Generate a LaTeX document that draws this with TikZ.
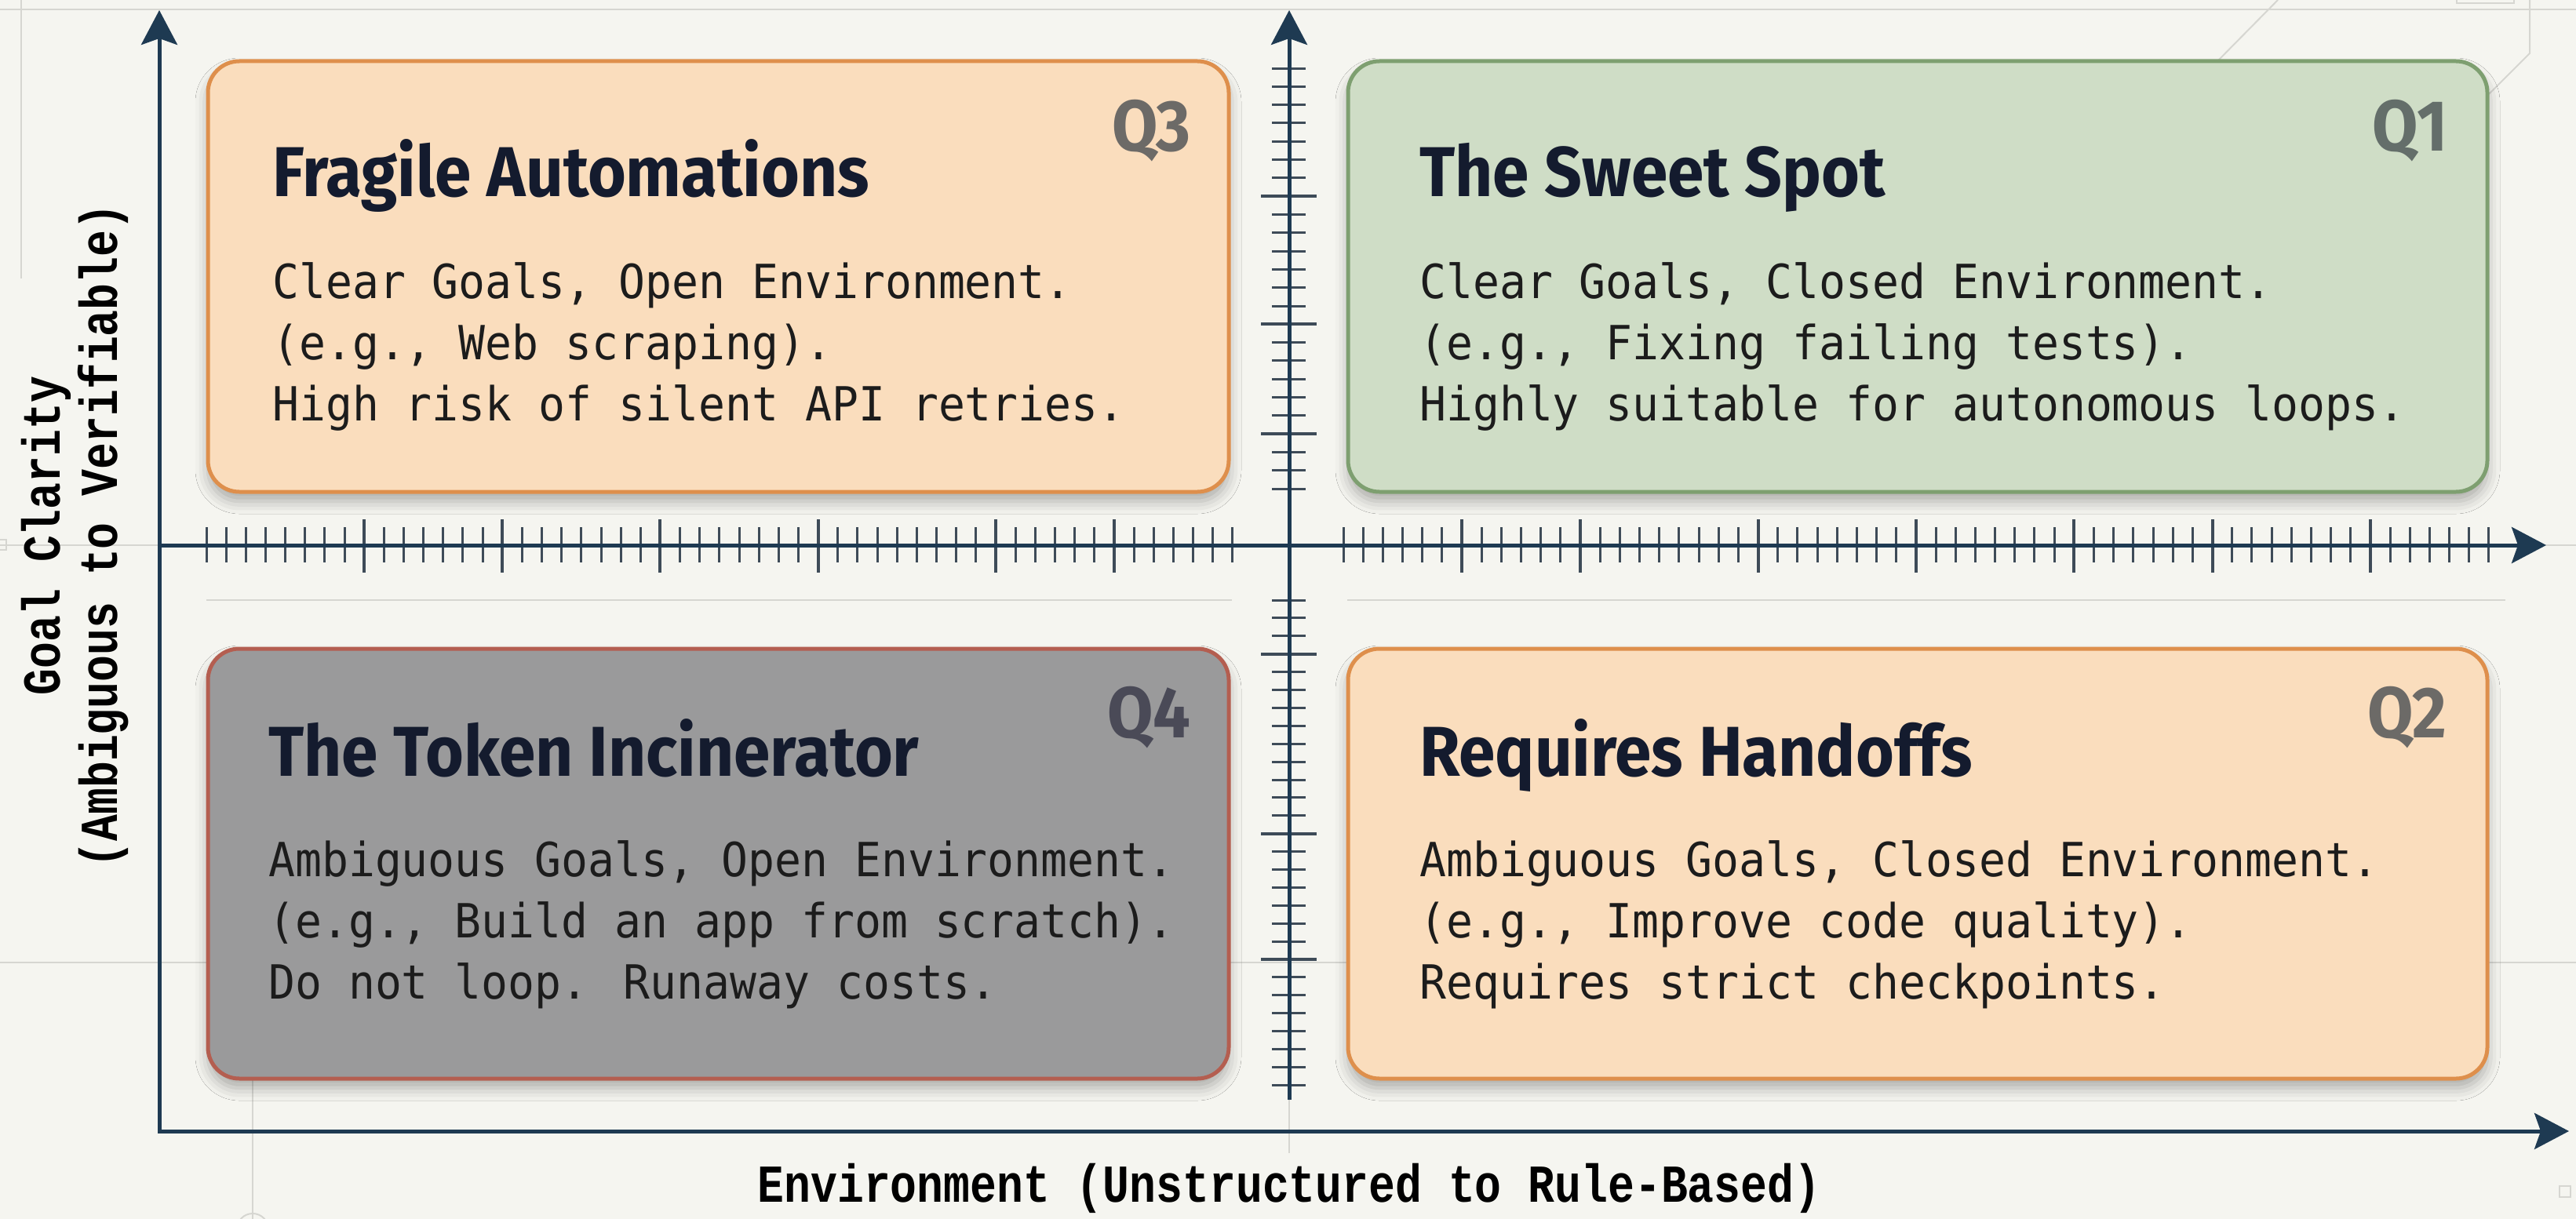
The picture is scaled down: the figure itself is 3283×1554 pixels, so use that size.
\documentclass[tikz,border=0pt]{standalone}
\usepackage{fontspec}
\usetikzlibrary{arrows.meta,shadows.blur}
\setmainfont{DejaVu Sans}
\newfontfamily\headfont[FakeStretch=0.93]{Fira Sans}
\newfontfamily\qfont[FakeStretch=0.92]{Fira Sans}
\newfontfamily\bodyfont[FakeStretch=0.94]{DejaVu Sans Mono}
\newfontfamily\axisfont[FakeStretch=0.83]{Liberation Mono}

\definecolor{paper}{HTML}{F5F5F0}
\definecolor{faint}{HTML}{D6D6D1}
\definecolor{axisblue}{HTML}{1E3A52}
\definecolor{tickgray}{HTML}{3E4B58}
\definecolor{peachfill}{HTML}{FADDBD}
\definecolor{peachline}{HTML}{DE8F4C}
\definecolor{greenfill}{HTML}{CFDDC6}
\definecolor{greenline}{HTML}{7E9F70}
\definecolor{grayfill}{HTML}{9A9A9B}
\definecolor{grayline}{HTML}{B45E50}
\definecolor{titleink}{HTML}{141B2E}
\definecolor{bodyink}{HTML}{1C1C1C}
\definecolor{qgray}{HTML}{6C6A67}
\definecolor{qgreen}{HTML}{646E6A}
\definecolor{qdark}{HTML}{4A4A57}

\tikzset{
  faintline/.style={draw=faint, line width=2pt},
  axisline/.style={draw=axisblue, line width=5pt, line join=miter},
  tip/.tip={Stealth[length=44pt, width=46pt, inset=8pt]},
  minortick/.style={draw=tickgray, line width=3pt},
  majortick/.style={draw=tickgray, line width=4pt},
  quadbox/.style={rounded corners=40pt, line width=5pt,
    blur shadow={shadow xshift=0pt, shadow yshift=-12pt,
      shadow blur radius=16pt, shadow opacity=30}},
  titletext/.style={anchor=base west, inner sep=0pt, text=titleink,
    font=\headfont\bfseries\fontsize{90}{90}\selectfont},
  bodytext/.style={anchor=base west, inner sep=0pt, text=bodyink,
    font=\bodyfont\fontsize{60}{78}\selectfont},
  qtag/.style={anchor=base east, inner sep=0pt,
    font=\qfont\bfseries\fontsize{92}{92}\selectfont},
  axislabel/.style={inner sep=0pt, text=black,
    font=\axisfont\bfseries\fontsize{68}{73}\selectfont},
}

\begin{document}
\begin{tikzpicture}[x=1pt, y=-1pt]
  % page and background
  \useasboundingbox (0,0) rectangle (3283,1554);
  \fill[paper] (0,0) rectangle (3283,1554);

  % faint construction lines
  \draw[faintline] (0,12) -- (3283,12);
  \draw[faintline] (0,695) -- (203,695);
  \draw[faintline] (3245,695) -- (3283,695);
  \draw[faintline] (0,1227) -- (3283,1227);
  \draw[faintline] (263,765) -- (1570,765);
  \draw[faintline] (1717,765) -- (3193,765);
  \draw[faintline] (27,0) -- (27,355);
  \draw[faintline] (322,1375) -- (322,1554);
  \draw[faintline] (322,1567) circle (20);
  \draw[faintline] (1643,1400) -- (1643,1470);
  \draw[faintline] (2903,0) -- (2826,78);
  \draw[faintline] (3224,0) -- (3224,68) -- (3172,120);
  \draw[faintline] (3131,-2) rectangle (3204,4);
  \draw[faintline] (-2,688) rectangle (8,701);
  \draw[faintline] (3262,1512) rectangle (3276,1526);

  % ticks on the horizontal middle axis
  \foreach \k in {0,...,52}
    \draw[minortick] ({263+25.15*\k},672) -- ({263+25.15*\k},717);
  \foreach \k in {8,15,23,31,40,46}
    \draw[majortick] ({263+25.15*\k},662) -- ({263+25.15*\k},730);
  \foreach \k in {0,...,58}
    \draw[minortick] ({1712+25.17*\k},672) -- ({1712+25.17*\k},717);
  \foreach \k in {6,12,21,29,37,44,52}
    \draw[majortick] ({1712+25.17*\k},662) -- ({1712+25.17*\k},730);

  % ticks on the vertical middle axis
  \foreach \k in {0,...,23}
    \draw[minortick] (1621,{623-23.3*\k}) -- (1664,{623-23.3*\k});
  \foreach \k in {3,9,16}
    \draw[majortick] (1607,{623-23.3*\k}) -- (1678,{623-23.3*\k});
  \foreach \k in {0,...,27}
    \draw[minortick] (1621,{765+22.9*\k}) -- (1664,{765+22.9*\k});
  \foreach \k in {3,13,20}
    \draw[majortick] (1607,{765+22.9*\k}) -- (1678,{765+22.9*\k});

  % axes
  \coordinate (origin) at (203,1442);
  \coordinate (ytop) at (203,13);
  \coordinate (xend) at (3274,1442);
  \coordinate (midleft) at (203,695);
  \coordinate (midright) at (3245,695);
  \coordinate (vtop) at (1643,13);
  \coordinate (vbottom) at (1643,1402);
  \draw[axisline, tip-tip] (ytop) -- (origin) -- (xend);
  \draw[axisline, -tip] (midleft) -- (midright);
  \draw[axisline, -tip] (vbottom) -- (vtop);

  % quadrant boxes
  \node[quadbox, draw=peachline, fill=peachfill,
        minimum width=1301pt, minimum height=549pt] (q3box) at (915.5,352.5) {};
  \node[quadbox, draw=greenline, fill=greenfill,
        minimum width=1452pt, minimum height=549pt] (q1box) at (2444,352.5) {};
  \node[quadbox, draw=grayline, fill=grayfill,
        minimum width=1301pt, minimum height=548pt] (q4box) at (915.5,1101) {};
  \node[quadbox, draw=peachline, fill=peachfill,
        minimum width=1452pt, minimum height=548pt] (q2box) at (2444,1101) {};

  % Q3
  \node[qtag, text=qgray] (q3tag) at (1518,193) {Q3};
  \node[titletext] (q3title) at (347,251) {Fragile Automations};
  \node[bodytext] (q3a) at (347,380) {Clear Goals, Open Environment.};
  \node[bodytext] (q3b) at (347,458) {(e.g., Web scraping).};
  \node[bodytext] (q3c) at (347,536) {High risk of silent API retries.};

  % Q1
  \node[qtag, text=qgreen] (q1tag) at (3120,193) {Q1};
  \node[titletext] (q1title) at (1809,251) {The Sweet Spot};
  \node[bodytext] (q1a) at (1809,380) {Clear Goals, Closed Environment.};
  \node[bodytext] (q1b) at (1809,458) {(e.g., Fixing failing tests).};
  \node[bodytext] (q1c) at (1809,536) {Highly suitable for autonomous loops.};

  % Q4
  \node[qtag, text=qdark] (q4tag) at (1518,940) {Q4};
  \node[titletext] (q4title) at (342,989) {The Token Incinerator};
  \node[bodytext] (q4a) at (342,1117) {Ambiguous Goals, Open Environment.};
  \node[bodytext] (q4b) at (342,1195) {(e.g., Build an app from scratch).};
  \node[bodytext] (q4c) at (342,1273) {Do not loop. Runaway costs.};

  % Q2
  \node[qtag, text=qgray] (q2tag) at (3118,940) {Q2};
  \node[titletext] (q2title) at (1809,989) {Requires Handoffs};
  \node[bodytext] (q2a) at (1809,1117) {Ambiguous Goals, Closed Environment.};
  \node[bodytext] (q2b) at (1809,1195) {(e.g., Improve code quality).};
  \node[bodytext] (q2c) at (1809,1273) {Requires strict checkpoints.};

  % axis titles
  \node[axislabel, rotate=90, align=center] (ylabel) at (96,683)
    {Goal Clarity\\(Ambiguous to Verifiable)};
  \node[axislabel, anchor=base] (xlabel) at (1643,1532)
    {Environment (Unstructured to Rule-Based)};
\end{tikzpicture}
\end{document}
